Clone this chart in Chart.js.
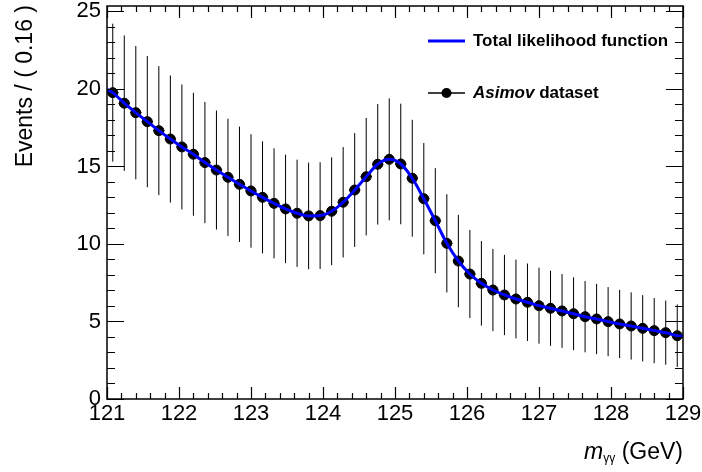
<!DOCTYPE html>
<html>
<head>
<meta charset="utf-8">
<script src="https://cdn.jsdelivr.net/npm/chart.js@4.4.1/dist/chart.umd.min.js"></script>
<style>
  html, body { margin: 0; padding: 0; background: #fff; }
  #wrap { position: relative; width: 702px; height: 472px; }
</style>
</head>
<body>
<div id="wrap"><canvas id="c" width="702" height="472"></canvas></div>
<script>
// ---- data ----
const binCenters = [
  121.08,121.24,121.40,121.56,121.72,121.88,122.04,122.20,122.36,122.52,
  122.68,122.84,123.00,123.16,123.32,123.48,123.64,123.80,123.96,124.12,
  124.28,124.44,124.60,124.76,124.92,125.08,125.24,125.40,125.56,125.72,
  125.88,126.04,126.20,126.36,126.52,126.68,126.84,127.00,127.16,127.32,
  127.48,127.64,127.80,127.96,128.12,128.28,128.44,128.60,128.76,128.92
];
const asimovEvents = [
  19.76,19.08,18.47,17.89,17.31,16.77,16.26,15.79,15.25,14.77,
  14.30,13.85,13.42,13.01,12.62,12.26,11.98,11.81,11.83,12.11,
  12.69,13.48,14.34,15.14,15.46,15.16,14.24,12.92,11.50,10.04,
  8.90,8.06,7.46,7.03,6.71,6.45,6.24,6.02,5.85,5.68,
  5.50,5.31,5.16,4.99,4.84,4.71,4.56,4.41,4.28,4.08
];
const asimovErrors = [
  4.45,4.37,4.30,4.23,4.16,4.10,4.03,3.97,3.91,3.84,
  3.78,3.72,3.66,3.61,3.55,3.50,3.46,3.44,3.44,3.48,
  3.56,3.67,3.79,3.89,3.93,3.89,3.77,3.59,3.39,3.17,
  2.98,2.84,2.73,2.65,2.59,2.54,2.50,2.45,2.42,2.38,
  2.35,2.30,2.27,2.23,2.20,2.17,2.14,2.10,2.07,2.02
];
const binHalfWidth = 0.08;
const curveEdgeMass = [121.0, 129.0];
const curveEdgeValues = [19.98, 4.03];
const xTicks = [121,122,123,124,125,126,127,128,129];
const yTicks = [0,5,10,15,20,25];
const xRange = [121, 129];
const yRange = [0, 25.35];
const yTitle = 'Events / ( 0.16 )';
const legendLabels = ['Total likelihood function', 'Asimov', ' dataset'];

// ---- build datasets ----
const points = binCenters.map((x, i) => ({ x: x, y: asimovEvents[i] }));
const curve = [{ x: curveEdgeMass[0], y: curveEdgeValues[0] }]
  .concat(points)
  .concat([{ x: curveEdgeMass[1], y: curveEdgeValues[1] }]);

const FONT = '"Liberation Sans", Arial, Helvetica, sans-serif';

const errorBarPlugin = {
  id: 'errorBars',
  beforeDatasetsDraw(chart) {
    const ctx = chart.ctx, xs = chart.scales.x, ys = chart.scales.y;
    ctx.save();
    ctx.strokeStyle = '#000';
    ctx.lineWidth = 1;
    ctx.beginPath();
    binCenters.forEach((m, i) => {
      const px = xs.getPixelForValue(m);
      const v = asimovEvents[i], e = asimovErrors[i];
      ctx.moveTo(px, ys.getPixelForValue(v - e));
      ctx.lineTo(px, ys.getPixelForValue(v + e));
      const py = ys.getPixelForValue(v);
      ctx.moveTo(xs.getPixelForValue(m - binHalfWidth), py);
      ctx.lineTo(xs.getPixelForValue(m + binHalfWidth), py);
    });
    ctx.stroke();
    ctx.restore();
  }
};

function minorRange(a, b, step) {
  const out = [];
  const n = Math.round((b - a) / step);
  for (let i = 0; i <= n; i++) out.push(a + i * step);
  return out;
}

const framePlugin = {
  id: 'frame',
  afterDraw(chart) {
    const ctx = chart.ctx, xs = chart.scales.x, ys = chart.scales.y;
    const a = chart.chartArea;
    ctx.save();
    ctx.strokeStyle = '#000';
    ctx.lineWidth = 1.5;
    ctx.strokeRect(a.left, a.top, a.right - a.left, a.bottom - a.top);
    ctx.lineWidth = 1.2;
    ctx.beginPath();
    // x ticks (major every 1, minor every 0.2)
    minorRange(xRange[0], xRange[1], 0.2).forEach(v => {
      const major = Math.abs(v - Math.round(v)) < 1e-6;
      const L = major ? 12 : 6;
      const px = Math.round(xs.getPixelForValue(v)) + 0.5;
      ctx.moveTo(px, a.bottom); ctx.lineTo(px, a.bottom - L);
      ctx.moveTo(px, a.top); ctx.lineTo(px, a.top + L);
    });
    // y ticks (major every 5, minor every 1)
    minorRange(0, 25, 1).forEach(v => {
      const major = v % 5 === 0;
      const L = major ? 17 : 8;
      const py = Math.round(ys.getPixelForValue(v)) + 0.5;
      ctx.moveTo(a.left, py); ctx.lineTo(a.left + L, py);
      ctx.moveTo(a.right, py); ctx.lineTo(a.right - L, py);
    });
    ctx.stroke();

    // y title
    ctx.fillStyle = '#000';
    ctx.font = '23px ' + FONT;
    ctx.save();
    ctx.translate(32, 5);
    ctx.rotate(-Math.PI / 2);
    ctx.textAlign = 'right';
    ctx.textBaseline = 'alphabetic';
    ctx.fillText(yTitle, 0, 0);
    ctx.restore();

    // x title: m_{γγ} (GeV), right aligned at frame right
    const mainFont = '23px ' + FONT;
    const itFont = 'italic 23px ' + FONT;
    const subFont = '12px ' + FONT;
    ctx.font = itFont; const wm = ctx.measureText('m').width;
    ctx.font = subFont; const ws = ctx.measureText('\u03B3\u03B3').width;
    ctx.font = mainFont; const wg = ctx.measureText(' (GeV)').width;
    let x0 = a.right - (wm + ws + wg);
    const base = 459;
    ctx.textAlign = 'left';
    ctx.font = itFont; ctx.fillText('m', x0, base); x0 += wm;
    ctx.font = subFont; ctx.fillText('\u03B3\u03B3', x0, base + 3); x0 += ws;
    ctx.font = mainFont; ctx.fillText(' (GeV)', x0, base);

    // legend
    const lx0 = 428, lx1 = 465, tx = 473;
    const r1 = 41, r2 = 93;
    ctx.strokeStyle = '#0000ff';
    ctx.lineWidth = 3;
    ctx.beginPath(); ctx.moveTo(lx0, r1); ctx.lineTo(lx1, r1); ctx.stroke();
    ctx.strokeStyle = '#000';
    ctx.lineWidth = 1.5;
    ctx.beginPath(); ctx.moveTo(lx0, r2); ctx.lineTo(lx1, r2); ctx.stroke();
    ctx.beginPath(); ctx.arc((lx0 + lx1) / 2, r2, 5, 0, Math.PI * 2); ctx.fill();
    ctx.textBaseline = 'middle';
    ctx.font = 'bold 17px ' + FONT;
    ctx.fillText(legendLabels[0], tx, r1);
    ctx.font = 'italic bold 17px ' + FONT;
    ctx.fillText(legendLabels[1], tx, r2);
    const wa = ctx.measureText(legendLabels[1]).width;
    ctx.font = 'bold 17px ' + FONT;
    ctx.fillText(legendLabels[2], tx + wa, r2);
    ctx.restore();
  }
};

new Chart(document.getElementById('c'), {
  type: 'scatter',
  data: {
    datasets: [
      {
        label: 'Total likelihood function',
        type: 'line',
        data: curve,
        borderColor: '#0000ff',
        borderWidth: 3,
        pointRadius: 0,
        cubicInterpolationMode: 'monotone',
        fill: false
      },
      {
        label: 'Asimov dataset',
        data: points,
        backgroundColor: '#000',
        borderColor: '#000',
        pointRadius: 5,
        pointHoverRadius: 5,
        showLine: false
      }
    ]
  },
  options: {
    responsive: false,
    animation: false,
    events: [],
    layout: { padding: { left: 0, top: 6, right: 19, bottom: 0 } },
    plugins: { legend: { display: false }, tooltip: { enabled: false } },
    scales: {
      x: {
        type: 'linear',
        min: xRange[0], max: xRange[1],
        grid: { display: false, drawTicks: false },
        border: { display: false },
        afterBuildTicks: s => { s.ticks = xTicks.map(v => ({ value: v })); },
        afterFit: s => { s.height = 73; s.paddingLeft = 0; s.paddingRight = 0; },
        ticks: { color: '#000', font: { family: FONT, size: 22 }, padding: 2, maxRotation: 0, autoSkip: false }
      },
      y: {
        type: 'linear',
        min: yRange[0], max: yRange[1],
        grid: { display: false, drawTicks: false },
        border: { display: false },
        afterBuildTicks: s => { s.ticks = yTicks.map(v => ({ value: v })); },
        afterFit: s => { s.width = 107; s.paddingTop = 0; s.paddingBottom = 0; },
        ticks: { color: '#000', font: { family: FONT, size: 22 }, padding: 6, autoSkip: false }
      }
    }
  },
  plugins: [errorBarPlugin, framePlugin]
});
</script>
</body>
</html>
